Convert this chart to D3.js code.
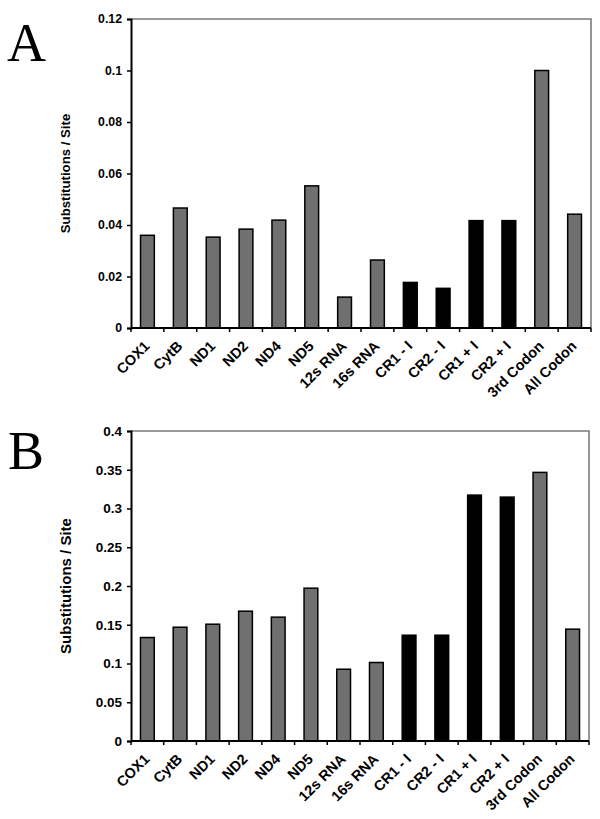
<!DOCTYPE html>
<html><head><meta charset="utf-8">
<script src="https://cdn.jsdelivr.net/npm/d3@7"></script>
<style>body{margin:0;background:#fff}</style>
</head><body>
<svg id="chart" width="600" height="819"></svg>
<script>
const categories = ["COX1","CytB","ND1","ND2","ND4","ND5","12s RNA","16s RNA","CR1 - I","CR2 - I","CR1 + I","CR2 + I","3rd Codon","All Codon"];
const valuesA = [0.036,0.0466,0.0353,0.0384,0.0419,0.0552,0.012,0.0264,0.0177,0.0154,0.0417,0.0417,0.1,0.0442];
const valuesB = [0.1335,0.1468,0.1507,0.1675,0.1598,0.1972,0.0926,0.1013,0.1365,0.1365,0.3173,0.3147,0.3466,0.1443];
const blackBars = ["CR1 - I","CR2 - I","CR1 + I","CR2 + I"];
const ticksA = [0,0.02,0.04,0.06,0.08,0.1,0.12];
const ticksB = [0,0.05,0.1,0.15,0.2,0.25,0.3,0.35,0.4];
const yTitle = "Substitutions / Site";

const svg = d3.select("#chart");
const FONT = "'Liberation Sans', Arial, sans-serif";

function panel(letter, values, ticks, box, letterPos, fs) {
  const g = svg.append("g");
  const x = d3.scaleBand().domain(categories).range([box.left, box.right]).paddingInner(0.58).paddingOuter(0.29);
  const y = d3.scaleLinear().domain([0, ticks[ticks.length-1]]).range([box.bottom, box.top]);
  const step = x.step();

  g.append("path")
    .attr("d", `M${box.left},${box.top}H${box.right}V${box.bottom}`)
    .attr("fill","none").attr("stroke","#7a7a7a").attr("stroke-width",1.6);

  g.selectAll("rect.bar").data(categories).join("rect")
    .attr("x", d => x(d))
    .attr("width", x.bandwidth())
    .attr("y", (d,i) => y(values[i]))
    .attr("height", (d,i) => y(0) - y(values[i]))
    .attr("fill", d => blackBars.includes(d) ? "#000" : "#707070")
    .attr("stroke","#000").attr("stroke-width",1.5);

  const ya = g.append("g").attr("transform",`translate(${box.left},0)`)
    .call(d3.axisLeft(y).tickValues(ticks).tickSize(4).tickPadding(5).tickFormat(d => String(d)));
  ya.select(".domain").attr("stroke","#000").attr("stroke-width",2);
  ya.selectAll(".tick line").attr("stroke","#000").attr("stroke-width",1.5);
  ya.selectAll("text").attr("font-family",FONT).attr("font-weight","bold").attr("font-size",fs.tick).attr("fill","#000");

  g.append("line").attr("x1",box.left).attr("x2",box.right).attr("y1",box.bottom).attr("y2",box.bottom)
    .attr("stroke","#000").attr("stroke-width",2);
  g.selectAll("line.xt").data(d3.range(categories.length+1)).join("line")
    .attr("x1", i => box.left + i*step).attr("x2", i => box.left + i*step)
    .attr("y1", box.bottom).attr("y2", box.bottom+4)
    .attr("stroke","#000").attr("stroke-width",1.5);

  g.selectAll("text.xl").data(categories).join("text")
    .attr("transform", d => `translate(${x(d)+x.bandwidth()/2+3},${box.bottom+19}) rotate(-45)`)
    .attr("text-anchor","end")
    .attr("font-family",FONT).attr("font-weight","bold").attr("font-size",fs.label)
    .text(d => d);

  g.append("text")
    .attr("transform",`translate(65,${(box.top+box.bottom)/2}) rotate(-90)`)
    .attr("text-anchor","middle").attr("dominant-baseline","central")
    .attr("font-family",FONT).attr("font-weight","bold").attr("font-size",fs.title)
    .text(yTitle);

  g.append("text").attr("x",letterPos[0]).attr("y",letterPos[1])
    .attr("font-family","'Liberation Serif', 'Times New Roman', serif").attr("font-size",54)
    .text(letter);
}

panel("A", valuesA, ticksA, {left:131,right:591,top:19,bottom:328}, [7,61], {tick:12.3, label:14.5, title:13.2});
panel("B", valuesB, ticksB, {left:131,right:589,top:431,bottom:741}, [8,469], {tick:13.5, label:14.5, title:15});
</script>
</body></html>
